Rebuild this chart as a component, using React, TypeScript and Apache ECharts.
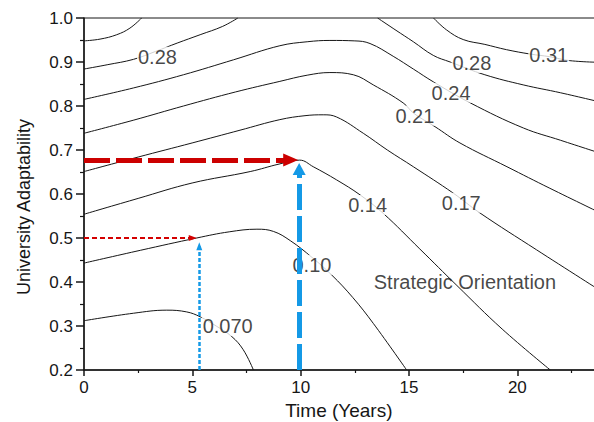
import React, { useEffect, useRef } from "react";
import * as echarts from "echarts";

const FONT = "'Liberation Sans', Arial, Helvetica, sans-serif";
const INK = "#161616";

// Contour lines: [time (years), university adaptability]
const contour031Left = [[0, 0.948], [0.74, 0.952], [1.51, 0.962], [2.12, 0.977], [2.66, 1.0]];
const contour031Right = [[16.13, 1.0], [16.73, 0.973], [17.5, 0.951], [18.5, 0.94], [19.5, 0.928], [20.6, 0.918], [21.5, 0.912], [22.43, 0.903], [24, 0.899]];
const contour028Left = [[0, 0.884], [1.1, 0.894], [2.28, 0.906], [3.3, 0.924], [4.3, 0.943], [5.36, 0.962], [6.4, 0.981], [7.1, 1.0]];
const contour028Right = [[13.55, 1.0], [14.4, 0.972], [15.2, 0.946], [16.12, 0.915], [16.9, 0.9], [18.5, 0.871], [20.27, 0.848], [22, 0.83], [24, 0.807]];
const contour024 = [[0, 0.815], [2.28, 0.841], [4.59, 0.871], [6.9, 0.905], [9.04, 0.937], [10.3, 0.946], [11.35, 0.949], [12.5, 0.948], [13.2, 0.942], [14.27, 0.913], [15.2, 0.884], [16.12, 0.855], [17.83, 0.807], [20.28, 0.75], [22, 0.722], [24, 0.69]];
const contour021 = [[0, 0.738], [2.3, 0.768], [4.59, 0.8], [7.0, 0.832], [9.04, 0.856], [10.3, 0.87], [11.35, 0.876], [12.43, 0.871], [13.35, 0.848], [14.73, 0.807], [15.23, 0.783], [16.2, 0.753], [17.35, 0.716], [19.52, 0.662], [21.5, 0.613], [24, 0.553]];
const contour017 = [[0, 0.651], [2.5, 0.684], [4.99, 0.716], [7.2, 0.745], [9.04, 0.769], [10.2, 0.778], [11.04, 0.78], [11.66, 0.775], [12.89, 0.738], [14.0, 0.7], [15.2, 0.662], [17.04, 0.602], [18.27, 0.557], [20.89, 0.473], [24, 0.375]];
const contour014 = [[0, 0.554], [2.5, 0.59], [4.99, 0.625], [7.67, 0.651], [9.0, 0.668], [9.95, 0.677], [10.58, 0.662], [11.66, 0.632], [12.74, 0.598], [13.81, 0.556], [15.5, 0.475], [17.21, 0.392], [19.3, 0.293], [21.52, 0.2]];
const contour010 = [[0, 0.443], [2.6, 0.472], [5.2, 0.5], [6.7, 0.514], [7.98, 0.52], [8.74, 0.515], [9.52, 0.494], [10.52, 0.456], [11.43, 0.416], [12.4, 0.365], [13.35, 0.306], [14.89, 0.2]];
const contour007 = [[0, 0.312], [2.28, 0.329], [3.82, 0.336], [4.74, 0.332], [5.36, 0.321], [6.1, 0.3], [6.82, 0.276], [7.35, 0.246], [7.82, 0.2]];

const contourLines = [contour031Left, contour031Right, contour028Left, contour028Right, contour024, contour021, contour017, contour014, contour010, contour007];

// Contour level labels
const labelTexts = ["0.28", "0.31", "0.28", "0.24", "0.21", "0.17", "0.14", "0.10", "0.070"];
const labelX = [3.39, 21.45, 17.9, 16.94, 15.27, 17.41, 13.09, 10.52, 6.63];
const labelY = [0.912, 0.917, 0.898, 0.83, 0.778, 0.58, 0.575, 0.439, 0.3];

// Annotation
const annotationText = "Strategic Orientation";
const annotationPos = [17.58, 0.4];

// Arrows: [from, to(head centre)]
const bigRedArrow = [[0, 0.677], [9.54, 0.677]];
const bigBlueArrow = [[9.93, 0.2], [9.93, 0.657]];
const smallRedArrow = [[0, 0.5], [5.02, 0.5]];
const smallBlueArrow = [[5.32, 0.2], [5.32, 0.481]];

const X_MIN = 0, X_MAX = 25, X_STEP = 5;
const Y_MIN = 0.2, Y_MAX = 1.0, Y_STEP = 0.1;

function arrowSeries(pts: number[][], color: string, width: number, dash: number[], head: number[]) {
  return {
    type: "line",
    data: [],
    z: 5,
    silent: true,
    markLine: {
      silent: true,
      animation: false,
      symbol: ["none", "triangle"],
      symbolSize: head,
      label: { show: false },
      lineStyle: { color, width, type: dash, opacity: 1 },
      emphasis: { disabled: true },
      data: [[{ coord: pts[0] }, { coord: pts[1] }]],
    },
  };
}

export default function App() {
  const ref = useRef<HTMLDivElement>(null);
  useEffect(() => {
    if (!ref.current) return;
    const chart = echarts.init(ref.current, null, { renderer: "svg" });
    const axisLineStyle = { color: INK, width: 1.5 };
    const option: any = {
      animation: false,
      backgroundColor: "#ffffff",
      grid: {
        left: 84, top: 18, width: 541.7, height: 352,
        containLabel: false, outerBoundsMode: "none",
        show: true, borderColor: INK, borderWidth: 1, backgroundColor: "transparent",
      },
      xAxis: {
        type: "value", min: X_MIN, max: X_MAX, interval: X_STEP,
        axisLine: { show: true, onZero: false, lineStyle: axisLineStyle },
        axisTick: { show: true, inside: false, length: 6, lineStyle: { color: INK, width: 1.5 } },
        minorTick: { show: true, splitNumber: 2, length: 3, lineStyle: { color: INK, width: 1.2 } },
        splitLine: { show: false },
        axisLabel: { fontSize: 17, fontFamily: FONT, color: INK, margin: 9, formatter: (v: number) => (v <= 20 ? String(v) : "") },
        name: "Time (Years)", nameLocation: "middle", nameGap: 29,
        nameTextStyle: { fontSize: 19, fontFamily: FONT, color: INK, padding: [0, 32, 0, 0] },
      },
      yAxis: {
        type: "value", min: Y_MIN, max: Y_MAX, interval: Y_STEP,
        axisLine: { show: true, onZero: false, lineStyle: axisLineStyle },
        axisTick: { show: true, inside: false, length: 8, lineStyle: { color: INK, width: 1.5 } },
        minorTick: { show: true, splitNumber: 2, length: 4, lineStyle: { color: INK, width: 1.2 } },
        splitLine: { show: false },
        axisLabel: { fontSize: 17, fontFamily: FONT, color: INK, margin: 11, formatter: (v: number) => v.toFixed(1) },
        name: "University Adaptability", nameLocation: "middle", nameGap: 51,
        nameTextStyle: { fontSize: 18, fontFamily: FONT, color: INK, padding: [0, 26, 0, 0] },
      },
      series: [
        ...contourLines.map((pts) => ({
          type: "line",
          data: pts,
          smooth: 0.4,
          showSymbol: false,
          silent: true,
          z: 2,
          lineStyle: { color: INK, width: 1 },
        })),
        {
          type: "scatter",
          z: 3,
          silent: true,
          symbolSize: 1,
          itemStyle: { color: "rgba(0,0,0,0)" },
          data: labelTexts.map((t, i) => ({ name: t, value: [labelX[i], labelY[i]] })),
          label: {
            show: true, position: "inside", formatter: (p: any) => p.name,
            fontSize: 20, fontFamily: FONT, color: INK, backgroundColor: "#ffffff", padding: [0, 1],
          },
        },
        {
          type: "scatter",
          z: 3,
          silent: true,
          symbolSize: 1,
          itemStyle: { color: "rgba(0,0,0,0)" },
          data: [{ name: annotationText, value: annotationPos }],
          label: { show: true, position: "inside", formatter: (p: any) => p.name, fontSize: 20, fontFamily: FONT, color: INK },
        },
        arrowSeries(bigRedArrow, "#cc0000", 5, [26, 6], [13, 15]),
        arrowSeries(bigBlueArrow, "#1499e6", 5, [26, 6], [13, 12]),
        arrowSeries(smallRedArrow, "#d40000", 2.2, [5, 3], [6, 8]),
        arrowSeries(smallBlueArrow, "#1499e6", 2.5, [4, 2], [6, 8]),
      ],
    };
    chart.setOption(option);
    return () => chart.dispose();
  }, []);
  return <div ref={ref} style={{ position: "fixed", left: 0, top: 0, width: 594, height: 422 }} />;
}
